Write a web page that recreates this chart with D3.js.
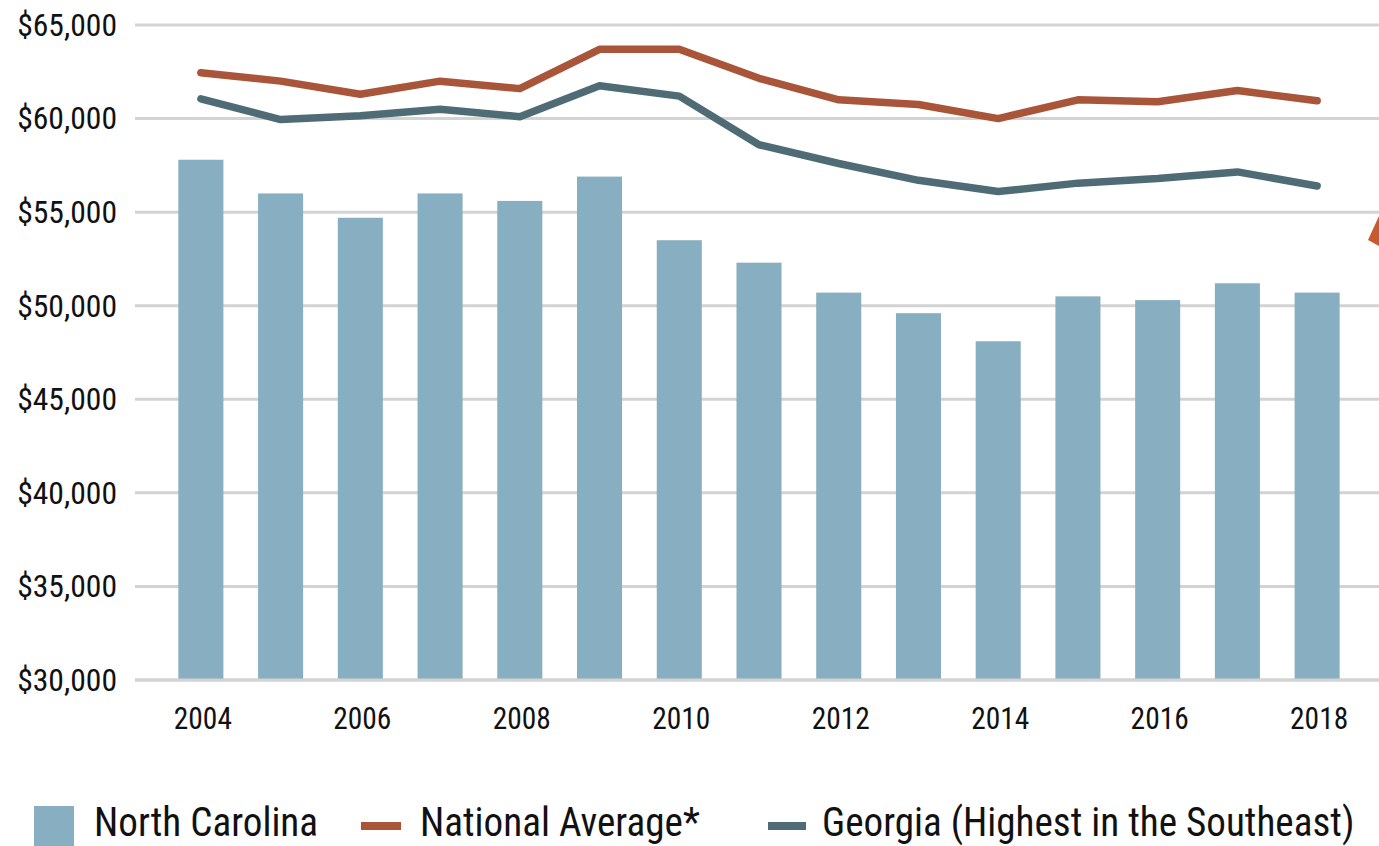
<!DOCTYPE html>
<html><head><meta charset="utf-8">
<script src="https://cdn.jsdelivr.net/npm/d3@7"></script>
<style>
html,body{margin:0;padding:0;background:#fff;}
svg text{font-family:"Roboto Condensed","Liberation Sans Narrow","DejaVu Sans Condensed",sans-serif;}
</style></head>
<body><svg id="c" width="1379" height="846"></svg>
<script>
const years = [2004,2005,2006,2007,2008,2009,2010,2011,2012,2013,2014,2015,2016,2017,2018];
const northCarolina = [57800,56000,54700,56000,55600,56900,53500,52300,50700,49600,48100,50500,50300,51200,50700];
const nationalAverage = [62450,62000,61300,62000,61600,63700,63700,62150,61000,60750,60000,61000,60900,61500,60950];
const georgia = [61050,59950,60150,60500,60100,61750,61200,58600,57600,56700,56100,56550,56800,57150,56400];
const yTicks = [30000,35000,40000,45000,50000,55000,60000,65000];
const xTickYears = [2004,2006,2008,2010,2012,2014,2016,2018];
const legendItems = ["North Carolina","National Average*","Georgia (Highest in the Southeast)"];

const colBar = "#88afc1", colNat = "#a9553a", colGa = "#4f6c76", colGrid = "#d3d3d3";
const svg = d3.select("#c");
const y = d3.scaleLinear().domain([30000,65000]).range([680,25]);
const x = d3.scaleBand().domain(years).range([161,1357]).paddingInner(0.435).paddingOuter(0.2175);
const cx = d => x(d) + x.bandwidth()/2;

// gridlines
svg.append("g").selectAll("line").data(yTicks).join("line")
  .attr("x1",135).attr("x2",1379).attr("y1",d=>y(d)).attr("y2",d=>y(d))
  .attr("stroke",colGrid).attr("stroke-width",3);

// y labels
const fmt = d3.format(",");
svg.append("g").selectAll("text").data(yTicks).join("text")
  .attr("transform",d=>`translate(117,${y(d)}) scale(1.02,1)`).attr("dy","0.35em").attr("text-anchor","end")
  .attr("font-size",31).attr("fill","#111").text(d=>"$"+fmt(d));

// bars
svg.append("g").selectAll("rect").data(years).join("rect")
  .attr("x",d=>x(d)).attr("width",x.bandwidth())
  .attr("y",(d,i)=>y(northCarolina[i])).attr("height",(d,i)=>y(30000)-y(northCarolina[i]))
  .attr("fill",colBar);

// baseline
svg.append("line").attr("x1",135).attr("x2",1379).attr("y1",y(30000)).attr("y2",y(30000))
  .attr("stroke",colGrid).attr("stroke-width",3);

// lines
const line = d3.line().x((d,i)=>cx(years[i])).y(d=>y(d));
svg.append("path").datum(nationalAverage).attr("d",line).attr("fill","none")
  .attr("stroke",colNat).attr("stroke-width",7.5).attr("stroke-linecap","round").attr("stroke-linejoin","round");
svg.append("path").datum(georgia).attr("d",line).attr("fill","none")
  .attr("stroke",colGa).attr("stroke-width",7.5).attr("stroke-linecap","round").attr("stroke-linejoin","round");

// x labels
svg.append("g").selectAll("text").data(xTickYears).join("text")
  .attr("transform",d=>`translate(${cx(d)+2},718) scale(0.92,1)`).attr("dy","0.35em").attr("text-anchor","middle")
  .attr("font-size",32).attr("fill","#111").text(d=>d);

// legend
const lg = svg.append("g");
const legSwatch = [
  {x:34,y:806,w:40,h:40,c:colBar},
  {x:361,y:822,w:40,h:8,c:colNat},
  {x:768,y:822,w:38,h:8,c:colGa}
];
const legTextX = [94,420,822];
lg.selectAll("rect").data(legSwatch).join("rect")
  .attr("x",d=>d.x).attr("y",d=>d.y).attr("width",d=>d.w).attr("height",d=>d.h).attr("fill",d=>d.c);
lg.selectAll("text").data(legendItems).join("text")
  .attr("transform",(d,i)=>`translate(${legTextX[i]},836) scale(0.955,1)`)
  .attr("font-size",41).attr("fill","#111").text(d=>d);

// partial arrow at right edge
svg.append("path").attr("d","M1368,240 L1379,216 L1379,246 Z").attr("fill","#c95a2c");
</script></body></html>
